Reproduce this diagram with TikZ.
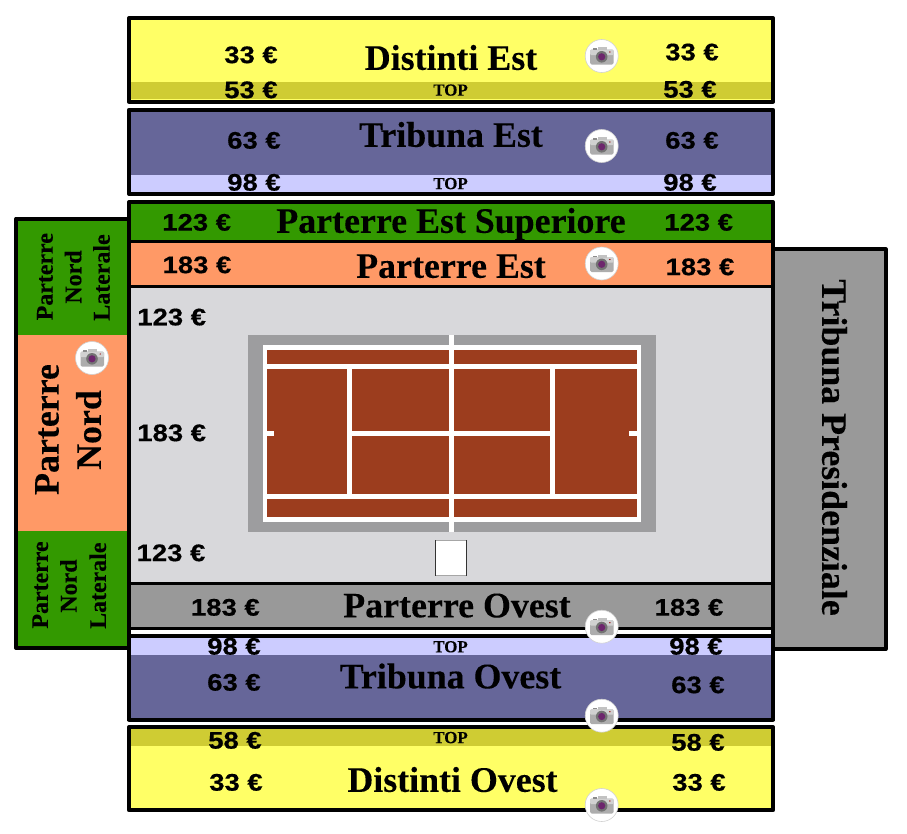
\documentclass[tikz,border=0pt]{standalone}
\usepackage{fontspec}
\setmainfont[BoldFeatures={FakeBold=0.15}]{Liberation Serif}
\newfontfamily\pricefont[FakeStretch=1.15,BoldFeatures={FakeBold=0.5}]{Liberation Sans}
\definecolor{cyel}{HTML}{FFFF66}
\definecolor{cyelb}{HTML}{CFCC33}
\definecolor{cblu}{HTML}{666699}
\definecolor{cblub}{HTML}{CCCCFF}
\definecolor{cgrn}{HTML}{339900}
\definecolor{cora}{HTML}{FF9966}
\definecolor{cgry}{HTML}{999999}
\definecolor{cfld}{HTML}{D8D8DB}
\definecolor{cclay}{HTML}{9C3D1E}
\definecolor{csur}{HTML}{9D9D9F}
\tikzset{
  x=1bp,y=-1bp,
  band/.style={draw=black,line width=4bp,line join=round},
  divider/.style={draw=black,line width=3bp},
  price/.style={inner sep=0pt,text height=17.2bp,text depth=0pt,font=\pricefont\bfseries\fontsize{24}{24}\selectfont},
  title/.style={inner sep=0pt,text height=23.6bp,text depth=0pt,font=\bfseries\fontsize{36}{36}\selectfont},
  toplabel/.style={inner sep=0pt,text height=11.2bp,text depth=0pt,font=\bfseries\fontsize{17}{17}\selectfont},
  sidesmall/.style={inner sep=0pt,text height=15.9bp,text depth=0pt,rotate=90,font=\bfseries\fontsize{24}{24}\selectfont},
  sidebig/.style={inner sep=0pt,text height=23.8bp,text depth=0pt,rotate=90,font=\bfseries\fontsize{36}{36}\selectfont},
  courtline/.style={draw=white,line width=4.6bp},
  camicon/.pic={
    \fill[white,draw=black!18,line width=.6bp] (0,0) circle[radius=16.5];
    \fill[black!32,rounded corners=1.5bp] (-11.5,-6.5) rectangle (12,8.5);
    \fill[black!18,rounded corners=1bp] (-11.5,-6.5) rectangle (12,-1);
    \fill[black!45] (-9,-8) rectangle (-5,-6.5);
    \fill[black!24] (-4,-9) rectangle (5,-6);
    \fill[black!55] (0,.8) circle[radius=5.8];
    \fill[violet!65!black!85] (0,.8) circle[radius=3.6];
    \fill[red!60!black] (8.2,-4) circle[radius=.7];
  }
}
\begin{document}
\begin{tikzpicture}
\useasboundingbox (0,0) rectangle (907,834);
\fill[white] (0,0) rectangle (907,834);
% Tribuna Presidenziale
\path[band,fill=cgry] (773,249.3) rectangle (885.5,649.3);
\node[title,rotate=-90] (tpres) at (834,447.5) {Tribuna Presidenziale};
% Parterre Nord block
\fill[cgrn] (16.3,218.5) rectangle (129,335);
\fill[cora] (16.3,335) rectangle (129,530.7);
\fill[cgrn] (16.3,530.7) rectangle (129,648);
\draw[band] (129,218.5) -- (16.3,218.5) -- (16.3,648) -- (129,648);
% Distinti Est
\path[fill=cyel] (129,18) rectangle (773,101.7);
\fill[cyelb] (129,82) rectangle (773,99);
\draw[band] (129,18) rectangle (773,101.7);
% Tribuna Est
\fill[cblu] (129,109.7) rectangle (773,193.8);
\fill[cblub] (129,175) rectangle (773,192);
\draw[band] (129,109.7) rectangle (773,193.8);
% Central block
\fill[cgrn] (129,202) rectangle (773,241.3);
\fill[cora] (129,241.3) rectangle (773,286.3);
\fill[cfld] (129,286.3) rectangle (773,583.6);
\fill[cgry] (129,583.6) rectangle (773,628.5);
\fill[white] (129,628.5) rectangle (773,636);
\draw[divider] (129,241.3) -- (773,241.3);
\draw[divider] (129,286.3) -- (773,286.3);
\draw[divider] (129,583.6) -- (773,583.6);
\draw[divider] (129,628.5) -- (773,628.5);
% Tribuna Ovest
\fill[cblu] (129,636.2) rectangle (773,719.5);
\fill[cblub] (129,638) rectangle (773,655);
\draw[band] (129,636.2) rectangle (773,719.5);
% Left and right walls of central block
\draw[band] (129,721) -- (129,202) -- (773,202) -- (773,721);
% Distinti Ovest
\fill[cyel] (129,727) rectangle (773,810.3);
\fill[cyelb] (129,729) rectangle (773,746);
\draw[band] (129,727) rectangle (773,810.3);
% Court
\fill[csur] (247.7,335) rectangle (656,531.7);
\fill[white] (262.7,345) rectangle (641.3,521.7);
\fill[cclay] (267.3,350) rectangle (636.7,516.7);
\draw[courtline] (267,366.7) -- (637,366.7);
\draw[courtline] (267,496.4) -- (637,496.4);
\draw[courtline] (349.4,366) -- (349.4,497);
\draw[courtline] (552.7,366) -- (552.7,497);
\draw[courtline] (349,433.3) -- (553,433.3);
\draw[courtline] (267,433.3) -- (273.7,433.3);
\draw[courtline] (629,433.3) -- (637,433.3);
\draw[courtline] (451.3,334.5) -- (451.3,532);
% Umpire box
\fill[white] (435.3,540) rectangle (466.7,575.7);
\draw[black!35,line width=.6bp] (435.3,540) -- (466.7,540);
\draw[black!35,line width=.6bp] (435.3,575.7) -- (466.7,575.7);
\draw[black!80,line width=.8bp] (435.3,540) -- (435.3,575.7);
\draw[black!80,line width=.8bp] (466.7,540) -- (466.7,575.7);
% Titles
\node[title] (de) at (451,58) {Distinti Est};
\node[title] (te) at (451,135) {Tribuna Est};
\node[title] (pes) at (451,221) {Parterre Est Superiore};
\node[title] (pe) at (451,266) {Parterre Est};
\node[title] (po) at (457,605.5) {Parterre Ovest};
\node[title] (to) at (450.5,676.5) {Tribuna Ovest};
\node[title] (dov) at (452.5,780) {Distinti Ovest};
% TOP
\node[toplabel] (top1) at (450.5,90) {TOP};
\node[toplabel] (top2) at (450.5,183.5) {TOP};
\node[toplabel] (top3) at (450.5,646.7) {TOP};
\node[toplabel] (top4) at (450.5,737.5) {TOP};
% Side labels
\node[sidesmall] (a1) at (44.7,276.7) {Parterre};
\node[sidesmall] (a2) at (73.3,277) {Nord};
\node[sidesmall] (a3) at (101.7,277.5) {Laterale};
\node[sidesmall] (b1) at (40,585) {Parterre};
\node[sidesmall] (b2) at (68.7,586) {Nord};
\node[sidesmall] (b3) at (98,585.7) {Laterale};
\node[sidebig] (c1) at (46.7,429.5) {Parterre};
\node[sidebig] (c2) at (89,430) {Nord};
% Prices
\node[price] (p1) at (251,54.5) {33 €};
\node[price] (p2) at (251,89.5) {53 €};
\node[price] (p3) at (692,51.7) {33 €};
\node[price] (p4) at (690,89) {53 €};
\node[price] (p5) at (254,140) {63 €};
\node[price] (p6) at (254,182) {98 €};
\node[price] (p7) at (692,140) {63 €};
\node[price] (p8) at (690,182) {98 €};
\node[price] (p9) at (196.7,222) {123 €};
\node[price] (p10) at (197,264.5) {183 €};
\node[price] (p11) at (698.7,222) {123 €};
\node[price] (p12) at (700,266.5) {183 €};
\node[price] (p13) at (171.7,316.7) {123 €};
\node[price] (p14) at (171.7,432.5) {183 €};
\node[price] (p15) at (171,552.5) {123 €};
\node[price] (p16) at (225.4,607) {183 €};
\node[price] (p17) at (689,607) {183 €};
\node[price] (p18) at (234,646) {98 €};
\node[price] (p19) at (234,682) {63 €};
\node[price] (p20) at (696,646) {98 €};
\node[price] (p21) at (698,684.5) {63 €};
\node[price] (p22) at (235,740) {58 €};
\node[price] (p23) at (236,782) {33 €};
\node[price] (p24) at (698,742) {58 €};
\node[price] (p25) at (699,782) {33 €};
% Cameras
\pic at (601.7,56) {camicon};
\pic at (601.7,146) {camicon};
\pic at (601.7,263.5) {camicon};
\pic at (92,358) {camicon};
\pic at (601.7,626.7) {camicon};
\pic at (601.7,715.7) {camicon};
\pic at (601.7,805) {camicon};
\end{tikzpicture}
\end{document}
